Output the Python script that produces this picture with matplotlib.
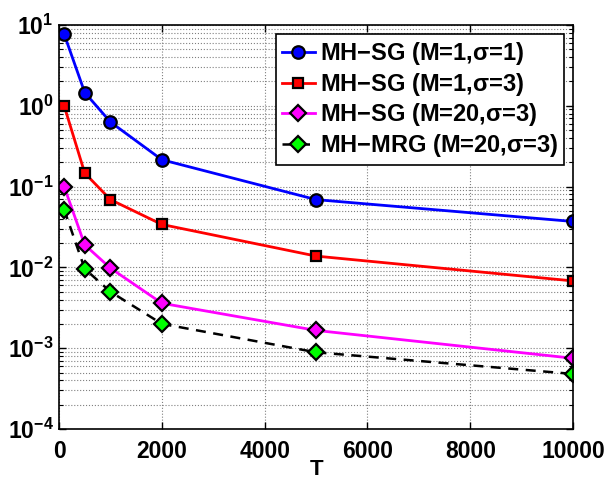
import matplotlib
matplotlib.use('Agg')
import matplotlib.pyplot as plt

# dane
T = [100, 500, 1000, 2000, 5000, 10000]
sg_m1_s1 = [7.7, 1.46, 0.63, 0.215, 0.069, 0.037]
sg_m1_s3 = [1.0, 0.147, 0.069, 0.034, 0.0138, 0.0068]
sg_m20_s3 = [0.1, 0.019, 0.0098, 0.0036, 0.00166, 0.00075]
mrg_m20_s3 = [0.052, 0.0096, 0.005, 0.002, 0.00089, 0.00048]

labels = [r'MH$-$SG (M=1,$\sigma$=1)', r'MH$-$SG (M=1,$\sigma$=3)',
          r'MH$-$SG (M=20,$\sigma$=3)', r'MH$-$MRG (M=20,$\sigma$=3)']
xticks = [0, 2000, 4000, 6000, 8000, 10000]
yticks = [1e-4, 1e-3, 1e-2, 1e-1, 1e0, 1e1]
ytick_labels = [r'$10^{-4}$', r'$10^{-3}$', r'$10^{-2}$', r'$10^{-1}$', r'$10^{0}$', r'$10^{1}$']

plt.rcParams['font.family'] = 'Liberation Sans'
plt.rcParams['font.weight'] = 'bold'
plt.rcParams['mathtext.fontset'] = 'custom'
plt.rcParams['mathtext.rm'] = 'Liberation Sans:bold'
plt.rcParams['mathtext.it'] = 'Liberation Sans:bold'
plt.rcParams['mathtext.bf'] = 'Liberation Sans:bold'
plt.rcParams['mathtext.default'] = 'rm'

fig = plt.figure(figsize=(6.11, 4.79), dpi=100)
ax = fig.add_axes([0.0966, 0.1044, 0.8414, 0.8434])

ax.semilogy(T, sg_m1_s1, '-o', color='blue', lw=2, ms=9, mfc='blue', mec='black', mew=1.6, label=labels[0])
ax.semilogy(T, sg_m1_s3, '-s', color='red', lw=2, ms=7, mfc='red', mec='black', mew=1.6, label=labels[1])
ax.semilogy(T, sg_m20_s3, '-D', color='magenta', lw=2, ms=8, mfc='magenta', mec='black', mew=1.6, label=labels[2])
ax.semilogy(T, mrg_m20_s3, '--D', color='black', lw=1.8, ms=8, mfc='#00ff00', mec='black', mew=1.6,
            dashes=(4, 3), label=labels[3])

ax.set_xlim(0, 10000)
ax.set_ylim(1e-4, 1e1)
ax.set_xticks(xticks)
ax.set_xticklabels([str(t) for t in xticks])
ax.set_yticks(yticks)
ax.set_yticklabels(ytick_labels)
ax.tick_params(axis='both', which='both', direction='in', top=True, right=True, labelsize=16.5)
ax.tick_params(axis='both', which='major', length=5, width=1)
ax.tick_params(axis='both', which='minor', length=3, width=0.8)
ax.tick_params(axis='x', pad=8)
ax.tick_params(axis='y', pad=4)

ax.grid(True, which='major', linestyle=':', color='gray', lw=0.8)
ax.grid(True, which='minor', axis='y', linestyle=':', color='gray', lw=0.8)
for s in ax.spines.values():
    s.set_linewidth(1.2)

ax.set_xlabel('T', fontsize=16, fontweight='bold', labelpad=-3)

leg = ax.legend(loc='upper right', fontsize=17, handlelength=1.4, handletextpad=0.2,
                borderpad=0.25, labelspacing=0.15, borderaxespad=0.4, fancybox=False)
leg.get_frame().set_edgecolor('black')
leg.get_frame().set_linewidth(1.2)
leg.get_frame().set_alpha(1)

fig.savefig('out.png', dpi=100)
